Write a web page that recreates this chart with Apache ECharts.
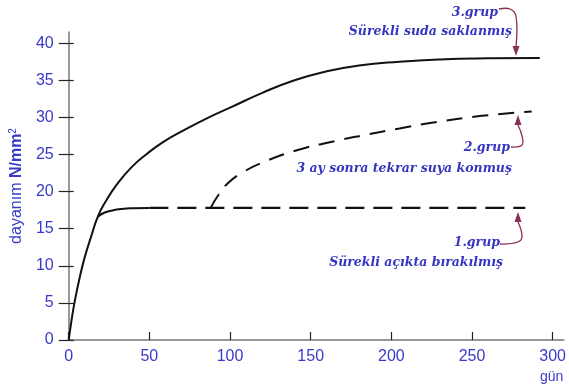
<!DOCTYPE html>
<html><head><meta charset="utf-8">
<script src="https://cdn.jsdelivr.net/npm/echarts@6/dist/echarts.min.js"></script>
<style>html,body{margin:0;padding:0;background:#fff}#c{width:569px;height:387px}</style>
</head><body><div id="c"></div>
<script>
// Tick labels
const xTicks = [0, 50, 100, 150, 200, 250, 300];
const yTicks = [0, 5, 10, 15, 20, 25, 30, 35, 40];
// 3.grup: Sürekli suda saklanmış (days, N/mm2)
const g3Days = [0, 2, 4, 7, 10, 14, 18, 23, 30, 39, 48, 58, 70, 85, 100, 120, 140, 160, 180, 205, 230, 260, 292];
const g3Vals = [0, 3.0, 5.5, 8.6, 11.2, 14.0, 16.6, 18.7, 21.0, 23.3, 25.0, 26.6, 28.1, 29.8, 31.3, 33.3, 35.0, 36.2, 37.0, 37.5, 37.8, 37.95, 38.0];
// 1.grup: Sürekli açıkta bırakılmış (solid start, then dashed)
const g1aDays = [18, 22, 27, 33, 40, 50];
const g1aVals = [16.6, 17.15, 17.45, 17.65, 17.75, 17.8];
const g1bDays = [50, 283];
const g1bVals = [17.8, 17.8];
// 2.grup: 3 ay sonra tekrar suya konmuş
const g2Days = [88, 93, 99, 108, 120, 142, 165, 183, 205, 223, 256, 287];
const g2Vals = [17.8, 19.6, 21.2, 22.6, 23.9, 25.6, 26.8, 27.6, 28.5, 29.2, 30.2, 30.8];

const zip = (a, b) => a.map((v, i) => [v, b[i]]);
const chart = echarts.init(document.getElementById('c'), null, {renderer: 'canvas'});
const blue = '#3a3ac8';
const txtBlue = '#3535c0';
const arrowCol = '#8a3058';
const annFont = {fontFamily: 'DejaVu Serif', fontStyle: 'italic', fontWeight: 'bold', fontSize: 12.5, fill: txtBlue};

chart.setOption({
  animation: false,
  backgroundColor: '#fff',
  grid: {left: 68, right: 1, top: 32, bottom: 47},
  xAxis: {
    type: 'value', min: 0, max: 307,
    name: 'gün', nameLocation: 'end', nameGap: -24,
    nameTextStyle: {color: blue, fontFamily: 'Liberation Sans', fontSize: 14, align: 'left', verticalAlign: 'top', padding: [30, 0, 0, 0]},
    axisLine: {lineStyle: {color: '#777', width: 1.5}},
    axisTick: {inside: true, length: 8, customValues: xTicks, lineStyle: {color: '#222', width: 1.2}},
    axisLabel: {customValues: xTicks, color: blue, fontFamily: 'Liberation Sans', fontSize: 16, margin: 9},
    splitLine: {show: false}
  },
  yAxis: [{
    type: 'value', min: 0, max: 41.5,
    name: '{a|dayanım }{b|N/mm}{c|2}', nameLocation: 'middle', nameRotate: 90, nameGap: 40,
    nameTextStyle: {rich: {
      a: {color: blue, fontFamily: 'Liberation Sans', fontSize: 16, lineHeight: 18},
      b: {color: blue, fontFamily: 'Liberation Sans', fontSize: 16, fontWeight: 'bold', lineHeight: 18},
      c: {color: blue, fontFamily: 'Liberation Sans', fontSize: 10, lineHeight: 18, verticalAlign: 'top', padding: [0, 0, 7, 0]}
    }},
    axisLine: {show: true, lineStyle: {color: '#777', width: 1.5}},
    axisTick: {show: true, length: 10, customValues: yTicks, lineStyle: {color: '#222', width: 1.2}},
    axisLabel: {customValues: yTicks, color: blue, fontFamily: 'Liberation Sans', fontSize: 16, margin: 15},
    splitLine: {show: false}
  }, {
    type: 'value', min: 0, max: 41.5, position: 'left',
    axisLine: {show: false},
    axisTick: {show: true, inside: true, length: 5, customValues: yTicks, lineStyle: {color: '#222', width: 1.2}},
    axisLabel: {show: false},
    splitLine: {show: false}
  }],
  series: [
    {type: 'line', data: zip(g3Days, g3Vals), smooth: 0.5, symbol: 'none', lineStyle: {color: '#111', width: 2}},
    {type: 'line', data: zip(g1aDays, g1aVals), smooth: 0.5, symbol: 'none', lineStyle: {color: '#111', width: 2}},
    {type: 'line', data: zip(g1bDays, g1bVals), symbol: 'none', lineStyle: {color: '#111', width: 2.4, type: [19, 9]}},
    {type: 'line', data: zip(g2Days, g2Vals), smooth: 0.5, symbol: 'none', lineStyle: {color: '#111', width: 2, type: [16, 10]}}
  ]
});

function arrow(points, tip, up) {
  const [tx, ty] = tip;
  const d = up ? 1 : -1;
  return [
    {type: 'polyline', shape: {points: points, smooth: 0.4}, style: {stroke: arrowCol, lineWidth: 1.3, fill: null}},
    {type: 'polygon', shape: {points: [[tx, ty], [tx - 3.5, ty + d * 10], [tx + 3.5, ty + d * 10]]}, style: {fill: arrowCol}}
  ];
}
const g = [
  {type: 'text', style: Object.assign({text: '3.grup', x: 498, y: 13, align: 'right', verticalAlign: 'middle'}, annFont)},
  {type: 'text', style: Object.assign({text: 'Sürekli suda saklanmış', x: 512, y: 32, align: 'right', verticalAlign: 'middle'}, annFont)},
  {type: 'text', style: Object.assign({text: '2.grup', x: 510, y: 148, align: 'right', verticalAlign: 'middle'}, annFont)},
  {type: 'text', style: Object.assign({text: '3 ay sonra tekrar suya konmuş', x: 512, y: 169, align: 'right', verticalAlign: 'middle'}, annFont)},
  {type: 'text', style: Object.assign({text: '1.grup', x: 500, y: 243, align: 'right', verticalAlign: 'middle'}, annFont)},
  {type: 'text', style: Object.assign({text: 'Sürekli açıkta bırakılmış', x: 503, y: 263, align: 'right', verticalAlign: 'middle'}, annFont)}
];
const a3 = arrow([[499, 9], [510, 9], [516, 16], [516, 47]], [516, 56], false);
const a2 = arrow([[511, 147], [522, 145], [522, 136], [518, 125]], [518, 115], true);
const a1 = arrow([[500, 244], [518, 242], [522, 236], [518, 222]], [518, 212], true);
chart.setOption({graphic: g.concat(a3, a2, a1)});
</script>
</body></html>
